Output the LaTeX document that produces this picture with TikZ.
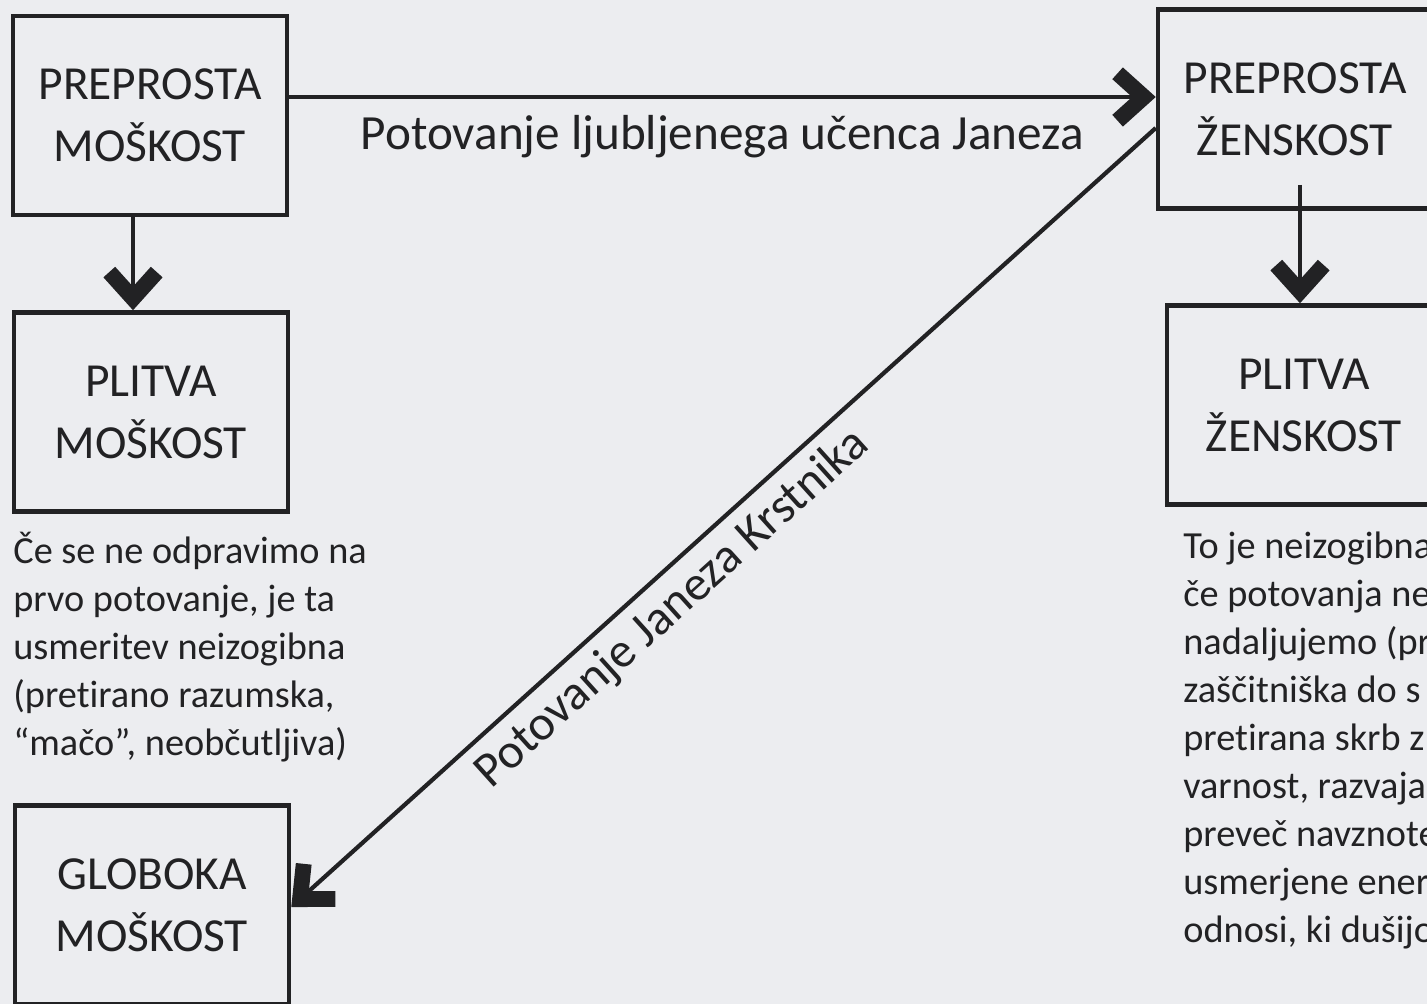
\documentclass[tikz,border=0pt]{standalone}
\usepackage{fontspec}
\setmainfont{Carlito}[Ligatures={NoCommon,NoRequired,NoContextual,NoRare}]
\usetikzlibrary{arrows.meta}
\definecolor{paper}{RGB}{236,237,240}
\definecolor{ink}{RGB}{34,34,36}

\begin{document}
\begin{tikzpicture}[x=0.02cm, y=-0.02cm,
    box/.style={draw=ink, line width=2.6pt, minimum width=5.48cm, minimum height=3.98cm,
      inner sep=0pt, align=center, text=ink, font=\fontsize{27}{35.3}\selectfont},
    note/.style={anchor=north west, inner sep=0pt, align=left, text=ink,
      font=\fontsize{21.8}{27.3}\selectfont},
    tag/.style={text=ink, inner sep=2pt, font=\fontsize{28}{34}\selectfont},
    chev/.style={draw=ink, line width=2.4pt,
      -{Straight Barb[length=15pt, width=27pt, line width=9pt, sharp]}}]
  \fill[paper] (0,0) rectangle (1427,1004);
  \useasboundingbox (0,0) rectangle (1427,1004);
  \draw
    (150,115.5) node[box] (pm){PREPROSTA\\MOŠKOST}
    (1295,109) node[box] (pz){PREPROSTA\\ŽENSKOST}
    (151,412) node[box] (plm){PLITVA\\MOŠKOST}
    (1304,405) node[box] (plz){PLITVA\\ŽENSKOST}
    (152,905) node[box] (gm){GLOBOKA\\MOŠKOST}
    (13,532) node[note] (levo){Če se ne odpravimo na\\prvo potovanje, je ta\\usmeritev neizogibna\\(pretirano razumska,\\“mačo”, neobčutljiva)}
    (1183,532) node[note] (desno){To je neizogibna\\če potovanja ne\\nadaljujemo (pr\\zaščitniška do s\\pretirana skrb z\\varnost, razvaja\\preveč navznote\\usmerjene ener\\odnosi, ki dušijo};
  \begin{scope}[chev]
    \draw ([shift={(0,-18.5)}]pm.east) to
      node[tag, midway, below=7pt] (janez){Potovanje ljubljenega učenca Janeza}
      ([shift={(0,-12)}]pz.west);
    \draw ([shift={(0,19)}]pz.west) to
      node[tag, pos=0.585, sloped, below=4pt] (krstnik){Potovanje Janeza Krstnika}
      ([shift={(0,2)}]gm.east);
    \draw ([shift={(-17,0)}]pm.south) to ([shift={(-18,0)}]plm.north);
    \draw ([shift={(5,-26)}]pz.south) to ([shift={(-4,0)}]plz.north);
  \end{scope}
\end{tikzpicture}
\end{document}
